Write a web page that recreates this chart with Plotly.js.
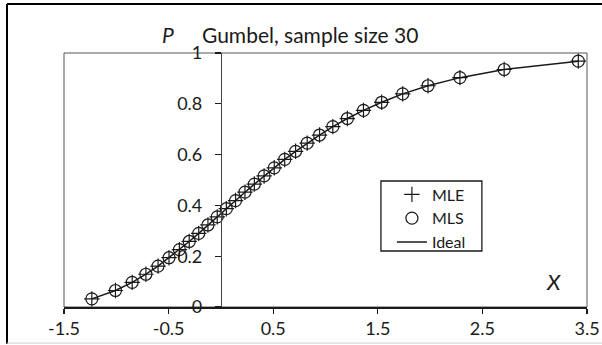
<!DOCTYPE html>
<html>
<head>
<meta charset="utf-8">
<script src="https://cdn.plot.ly/plotly-3.0.1.min.js"></script>
<style>html,body{margin:0;padding:0;background:#fff;}#chart{width:602px;height:345px;}</style>
</head>
<body>
<div id="chart"></div>
<script>
// Data (plotting positions of a Gumbel sample, n = 30)
const xValues = [-1.234, -1.008, -0.848, -0.717, -0.601, -0.496, -0.397, -0.303, -0.212, -0.124,
                 -0.035, 0.052, 0.140, 0.230, 0.320, 0.413, 0.510, 0.610, 0.714, 0.825,
                 0.943, 1.070, 1.209, 1.363, 1.537, 1.738, 1.980, 2.285, 2.708, 3.417];
const pValues = [0.032, 0.065, 0.097, 0.129, 0.161, 0.194, 0.226, 0.258, 0.290, 0.323,
                 0.355, 0.387, 0.419, 0.452, 0.484, 0.516, 0.548, 0.581, 0.613, 0.645,
                 0.677, 0.710, 0.742, 0.774, 0.806, 0.839, 0.871, 0.903, 0.935, 0.968];
const xTickVals = [-1.5, -0.5, 0.5, 1.5, 2.5, 3.5];
const xTickText = ['-1.5', '-0.5', '0.5', '1.5', '2.5', '3.5'];
const yTickVals = [0, 0.2, 0.4, 0.6, 0.8, 1];
const yTickText = ['0', '0.2', '0.4', '0.6', '0.8', '1'];
const seriesNames = ['MLE', 'MLS', 'Ideal'];
const chartTitle = 'Gumbel, sample size 30';

const FONT = 'Lato, "Open Sans", sans-serif';
const INK = '#1a1a1a';

const traces = [
  {x: xValues, y: pValues, name: seriesNames[0], mode: 'markers', type: 'scatter',
   marker: {symbol: 'cross-thin-open', size: 11, line: {color: INK, width: 1.2}, color: INK}},
  {x: xValues, y: pValues, name: seriesNames[1], mode: 'markers', type: 'scatter',
   marker: {symbol: 'circle-open', size: 12, line: {color: INK, width: 1.2}, color: INK}},
  {x: xValues, y: pValues, name: seriesNames[2], mode: 'lines', type: 'scatter',
   line: {color: INK, width: 1.5}}
];

const X0 = -1.5, X1 = 3.5;
const yPos = (0 - X0) / (X1 - X0);

const layout = {
  width: 602, height: 345,
  margin: {l: 64, r: 15, t: 53, b: 38, pad: 0},
  paper_bgcolor: '#fff', plot_bgcolor: '#fff',
  font: {family: FONT, size: 18, color: INK},
  showlegend: true,
  legend: {x: 0.627, y: 0.51, xanchor: 'left', yanchor: 'top',
           borderwidth: 0, bgcolor: 'rgba(0,0,0,0)',
           font: {family: FONT, size: 16, color: INK}, tracegroupgap: 0},
  xaxis: {range: [X0, X1], tickvals: xTickVals, ticktext: xTickText,
          showgrid: false, zeroline: false, showline: true, linecolor: INK, linewidth: 1.5,
          ticks: 'outside', ticklen: 5, tickwidth: 1.2, tickcolor: INK,
          tickfont: {family: FONT, size: 18, color: INK}, fixedrange: true},
  xaxis2: {range: [X0, X1], overlaying: 'x', anchor: 'y', tickvals: xTickVals,
           showticklabels: false, showgrid: false, zeroline: false, showline: false,
           ticks: 'inside', ticklen: 5, tickwidth: 1.2, tickcolor: INK},
  yaxis: {range: [0, 1], tickvals: yTickVals, ticktext: yTickText, anchor: 'free', position: yPos,
          showgrid: false, zeroline: false, showline: true, linecolor: '#444', linewidth: 1,
          ticks: 'outside', ticklen: 6, tickwidth: 1.2, tickcolor: INK, ticklabelstandoff: 9,
          tickfont: {family: FONT, size: 18, color: INK}, fixedrange: true},
  yaxis2: {range: [0, 1], overlaying: 'y', anchor: 'free', position: yPos, tickvals: yTickVals,
           showticklabels: false, showgrid: false, zeroline: false, showline: false,
           ticks: 'inside', ticklen: 6, tickwidth: 1.2, tickcolor: INK},
  annotations: [
    {text: chartTitle, xref: 'paper', yref: 'paper', x: 0.47, y: 1.072, xanchor: 'center', yanchor: 'middle',
     showarrow: false, font: {family: FONT, size: 21, color: INK}},
    {text: '<i>P</i>', xref: 'paper', yref: 'paper', x: 0.199, y: 1.072, xanchor: 'center', yanchor: 'middle',
     showarrow: false, font: {family: FONT, size: 21, color: INK}},
    {text: '<i>X</i>', xref: 'paper', yref: 'paper', x: 0.935, y: 0.1, xanchor: 'center', yanchor: 'middle',
     showarrow: false, font: {family: FONT, size: 22, color: INK}}
  ],
  shapes: [
    {type: 'rect', xref: 'paper', yref: 'paper', x0: 0, x1: 1, y0: 0, y1: 1,
     line: {color: '#555', width: 1}, layer: 'below'},
    {type: 'rect', xref: 'paper', yref: 'paper', x0: 0.606, x1: 0.799, y0: 0.2205, y1: 0.496,
     line: {color: INK, width: 1.3}, fillcolor: '#fff', layer: 'above'},
    {type: 'line', xref: 'paper', yref: 'paper', x0: -0.109, x1: 1.05, y0: 1.193, y1: 1.193,
     line: {color: '#000', width: 2}},
    {type: 'line', xref: 'paper', yref: 'paper', x0: -0.109, x1: -0.109, y0: 1.193, y1: -0.145,
     line: {color: '#000', width: 2}},
    {type: 'line', xref: 'paper', yref: 'paper', x0: -0.109, x1: 1.05, y0: -0.142, y1: -0.142,
     line: {color: '#ccc', width: 1}}
  ]
};

Plotly.newPlot('chart', traces, layout, {staticPlot: true, displayModeBar: false});
</script>
</body>
</html>
